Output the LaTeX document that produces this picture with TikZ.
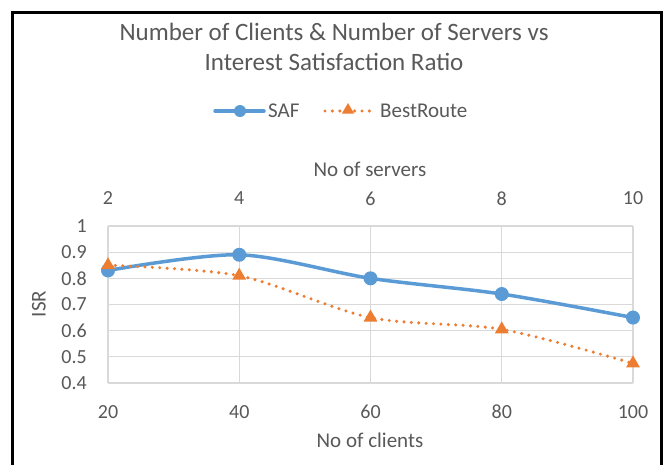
\documentclass[tikz,border=0pt]{standalone}
\usepackage{fontspec}
\setmainfont{Carlito}
\usetikzlibrary{shapes.geometric}
\definecolor{safblue}{HTML}{5B9BD5}
\definecolor{brorange}{HTML}{ED7D31}
\definecolor{gridgray}{HTML}{D9D9D9}
\definecolor{textgray}{HTML}{595959}
\tikzset{
  txt/.style={text=textgray, inner sep=0pt, font=\fontsize{21}{23}\selectfont},
  tick/.style={text=textgray, inner sep=0pt, font=\fontsize{20}{22}\selectfont},
  ttl/.style={text=textgray, inner sep=0pt, font=\fontsize{25}{27}\selectfont},
  gridline/.style={draw=gridgray, line width=1.2pt},
  safline/.style={draw=safblue, line width=3.5pt, line cap=round, line join=round},
  brline/.style={draw=brorange, line width=3.4pt, line cap=round, dash pattern=on 0pt off 7.4pt},
  safmark/.style={circle, fill=safblue, minimum size=14pt, inner sep=0pt},
  brmark/.style={regular polygon, regular polygon sides=3, fill=brorange, minimum size=16pt, inner sep=0pt},
}
\begin{document}
\begin{tikzpicture}[x=1pt,y=-1pt]
\useasboundingbox (0,0) rectangle (668,464);
\fill[white] (0,0) rectangle (668,464);
\clip (0,0) rectangle (668,464);
% outer frame
\draw[line width=3pt] (12,480) -- (12,12) -- (661,12) -- (661,480);

% title
\node[ttl, anchor=base] (title1) at (334,40) {Number of Clients \& Number of Servers vs};
\node[ttl, anchor=base] (title2) at (334,70) {Interest Satisfaction Ratio};

% legend
\coordinate (la) at (215,111);
\coordinate (lb) at (264,111);
\draw[safline] (la) -- (lb);
\node[safmark, minimum size=12pt] (lsaf) at (240,111) {};
\node[txt, anchor=west] (lsaftxt) at (268,111) {SAF};
\coordinate (lc) at (325,111);
\coordinate (ld) at (372,111);
\draw[brline] (lc) -- (ld);
\node[brmark, minimum size=14pt] (lbr) at (348,110) {};
\node[txt, anchor=west] (lbrtxt) at (380,111) {BestRoute};

% axis titles
\node[txt] (topttl) at (370,169) {No of servers};
\node[txt] (botttl) at (370,440) {No of clients};
\node[txt, rotate=90] (yttl) at (39,304) {ISR};

\begin{scope}[shift={(108,383)}, x=131.25pt, y=26.17pt]
  % grid
  \foreach \k in {0,...,6} \draw[gridline] (0,\k) -- (4,\k);
  \foreach \i in {0,...,4} \draw[gridline] (\i,0) -- (\i,6);
  % y tick labels
  \foreach \k/\lab in {0/0.4,1/0.5,2/0.6,3/0.7,4/0.8,5/0.9,6/1}
    \node[tick, anchor=east] (yl\k) at ([xshift=-21pt]0,\k) {\lab};
  % bottom and top tick labels
  \foreach \i/\c/\s in {0/20/2,1/40/4,2/60/6,3/80/8,4/100/10}{
    \node[tick] (xb\i) at ([yshift=-29pt]\i,0) {\c};
    \node[tick] (xt\i) at ([yshift=27.5pt]\i,6) {\s};
  }
  % data
  \coordinate (s0) at (0,4.3);
  \coordinate (s1) at (1,4.9);
  \coordinate (s2) at (2,4.0);
  \coordinate (s3) at (3,3.4);
  \coordinate (s4) at (4,2.5);
  \coordinate (b0) at (0,4.5);
  \coordinate (b1) at (1,4.1);
  \coordinate (b2) at (2,2.5);
  \coordinate (b3) at (3,2.05);
  \coordinate (b4) at (4,0.75);
  \draw[safline] plot[smooth, tension=0.5] coordinates {(s0) (s1) (s2) (s3) (s4)};
  \draw[brline] plot[smooth, tension=0.5] coordinates {(b0) (b1) (b2) (b3) (b4)};
  \foreach \i in {0,...,4} \node[safmark] (ms\i) at (s\i) {};
  \foreach \i in {0,...,4} \node[brmark] (mb\i) at (b\i) {};
\end{scope}
\end{tikzpicture}
\end{document}
